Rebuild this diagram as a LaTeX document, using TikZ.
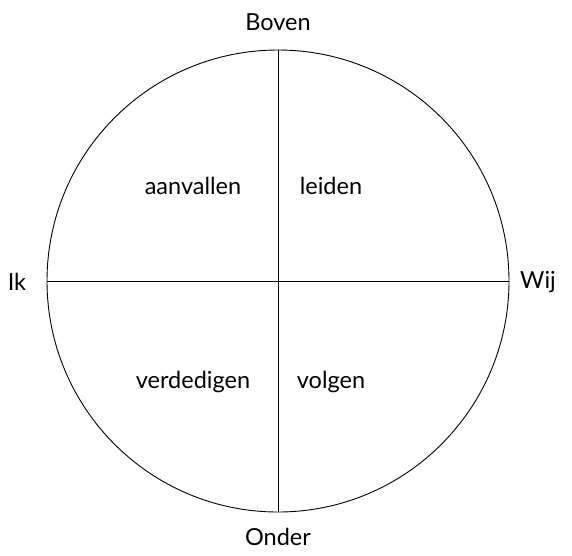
\documentclass[tikz,border=0pt]{standalone}
\usepackage{fontspec}
\setmainfont{Lato}
\usetikzlibrary{positioning}
\tikzset{
    % Labels round the circle
    pole/.style={
        font=\fontsize{23.5}{28}\selectfont,
        inner sep=0pt
    },
    % Labels inside the quadrants
    quadrant/.style={
        font=\fontsize{23.5}{28}\selectfont,
        inner sep=0pt
    },
    % Axis lines
    axis/.style={
        line width=0.9pt,
        color=black
    }
}
\begin{document}
\begin{tikzpicture}[x=1pt, y=-1pt]
        \useasboundingbox (0,0) rectangle (572,555);
        % Circle
        \node (circ) [circle, draw, line width=0.9pt, minimum size=462pt, inner sep=0pt] at (278,281) {};

        % Axes
        \draw [axis] (circ.north) -- (circ.south);
        \draw [axis] (circ.west) -- (circ.east);

        % Poles
        \node (boven) [pole] at (278,22) {Boven};
        \node (onder) [pole] at (278,537) {Onder};
        \node (ik) [pole] at (17,282) {Ik};
        \node (wij) [pole] at (538,282) {Wij};

        % Quadrants
        \node (aanvallen) [quadrant] at (193,186) {aanvallen};
        \node (leiden) [quadrant] at (331,186) {leiden};
        \node (verdedigen) [quadrant] at (193,382) {verdedigen};
        \node (volgen) [quadrant] at (331,382) {volgen};
    \end{tikzpicture}
\end{document}
